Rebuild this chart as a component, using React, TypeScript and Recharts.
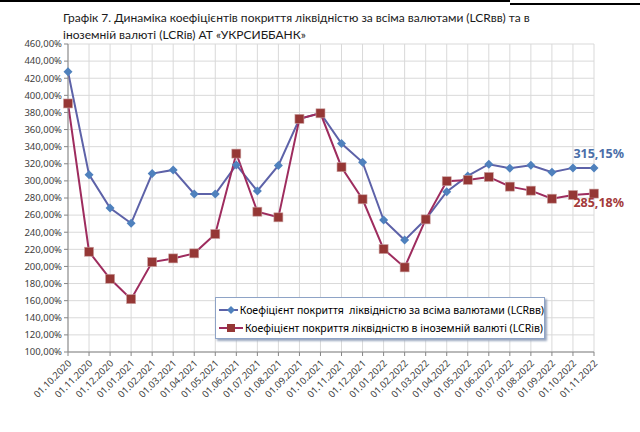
import { CartesianGrid, Line, LineChart, XAxis, YAxis } from "recharts";

const dates = [
  "01.10.2020", "01.11.2020", "01.12.2020", "01.01.2021", "01.02.2021", "01.03.2021",
  "01.04.2021", "01.05.2021", "01.06.2021", "01.07.2021", "01.08.2021", "01.09.2021",
  "01.10.2021", "01.11.2021", "01.12.2021", "01.01.2022", "01.02.2022", "01.03.2022",
  "01.04.2022", "01.05.2022", "01.06.2022", "01.07.2022", "01.08.2022", "01.09.2022",
  "01.10.2022", "01.11.2022",
];

const lcrAll = [
  427.5, 307.3, 268.3, 250.4, 308.5, 312.8, 284.7, 284.7, 318.7, 288.2, 318.0, 372.5,
  379.2, 343.6, 321.8, 254.3, 230.8, 255.1, 287.4, 305.8, 319.5, 314.8, 318.3, 310.1,
  315.2, 315.15,
];

const lcrFx = [
  390.5, 217.2, 185.6, 161.8, 205.1, 209.4, 215.3, 237.9, 331.9, 264.0, 257.4, 372.5,
  379.0, 316.0, 278.5, 220.3, 198.9, 255.0, 299.6, 301.1, 304.6, 293.3, 288.6, 279.2,
  283.5, 285.18,
];

const yTicks = [100, 120, 140, 160, 180, 200, 220, 240, 260, 280, 300, 320, 340, 360, 380, 400, 420, 440, 460];

const seriesNames = [
  "Коефіцієнт покриття  ліквідністю за всіма валютами (LCRвв)",
  "Коефіцієнт покриття ліквідністю в іноземній валюті (LCRів)",
];

const data = dates.map((d, i) => ({ date: d, all: lcrAll[i], fx: lcrFx[i] }));

const BLUE_LINE = "#5d62a8";
const BLUE_DOT = "#4f81bd";
const RED_LINE = "#9e2c5e";
const RED_DOT = "#953735";
const FONT = "'Noto Sans', 'DejaVu Sans', sans-serif";

const fmt = (v: number) => v.toFixed(2).replace(".", ",") + "%";

const Diamond = (p: any) => {
  const { cx, cy } = p;
  if (cx == null || cy == null) return null;
  const r = 4.5;
  return (
    <path
      key={`d-${p.index}`}
      d={`M${cx},${cy - r}L${cx + r},${cy}L${cx},${cy + r}L${cx - r},${cy}Z`}
      fill={BLUE_DOT}
    />
  );
};

const Square = (p: any) => {
  const { cx, cy } = p;
  if (cx == null || cy == null) return null;
  const s = 4.5;
  return (
    <rect
      key={`s-${p.index}`}
      x={cx - s}
      y={cy - s}
      width={s * 2}
      height={s * 2}
      fill={RED_DOT}
      stroke="#c9a0a0"
      strokeWidth={0.6}
    />
  );
};

const DateTick = ({ x, y, payload }: any) => (
  <text
    x={0}
    y={0}
    transform={`translate(${x + 4},${y + 6}) rotate(-45)`}
    textAnchor="end"
    fontSize={9.5}
    fontFamily={FONT}
    fill="#404040"
  >
    {payload.value}
  </text>
);

const lastLabel = (color: string, dx: number, dy: number) => (p: any) => {
  if (p.index !== dates.length - 1) return null;
  return (
    <text
      key="last"
      x={p.x + dx}
      y={p.y + dy}
      textAnchor="end"
      fontSize={12.5}
      fontWeight="bold"
      fontFamily={FONT}
      fill={color}
    >
      {fmt(p.value)}
    </text>
  );
};

const LegendBox = () => (
  <div
    style={{
      position: "absolute",
      left: 215,
      top: 297,
      border: "1px solid #8ea3c6",
      boxShadow: "2px 2px 2px #9aa8bf",
      background: "#fff",
      padding: "3px 0 0 3px",
      fontFamily: FONT,
      fontSize: 10.5,
      color: "#000",
      boxSizing: "border-box",
      width: 330,
      height: 42,
    }}
  >
    {seriesNames.map((name, i) => (
      <div key={name} style={{ display: "flex", alignItems: "center", height: 18, whiteSpace: "pre" }}>
        <svg width={24} height={12} style={{ marginRight: 2 }}>
          <line x1={0} y1={6} x2={24} y2={6} stroke={i === 0 ? BLUE_LINE : RED_LINE} strokeWidth={2} />
          {i === 0 ? (
            <path d="M12,2L16,6L12,10L8,6Z" fill={BLUE_DOT} />
          ) : (
            <rect x={8} y={2} width={8} height={8} fill={RED_DOT} />
          )}
        </svg>
        <span>{name}</span>
      </div>
    ))}
  </div>
);

export default function App() {
  return (
    <div style={{ position: "absolute", left: 0, top: 0, width: 640, height: 432, background: "#fff" }}>
      <div style={{ position: "absolute", left: 0, top: 0, width: 510, height: 2, background: "#000" }} />
      <div style={{ position: "absolute", left: 510, top: 3, width: 130, height: 2, background: "#000" }} />
      <div
        style={{
          position: "absolute",
          left: 63,
          top: 9,
          fontFamily: "Lato, 'Noto Sans', sans-serif",
          fontSize: 12,
          lineHeight: "17px",
          color: "#1a1a1a",
          width: 570,
        }}
      >
        Графік 7. Динаміка коефіцієнтів покриття ліквідністю за всіма валютами (LCRвв) та в
        <br />
        іноземній валюті (LCRів) АТ «УКРСИББАНК»
      </div>
      <LineChart width={640} height={432} data={data} margin={{ top: 44, right: 46, bottom: 0, left: 0 }}>
        <CartesianGrid stroke="#d9d9d9" strokeWidth={1} />
        <XAxis
          dataKey="date"
          interval={0}
          height={80}
          tick={<DateTick />}
          tickSize={4}
          axisLine={{ stroke: "#868686" }}
          tickLine={{ stroke: "#868686" }}
        />
        <YAxis
          domain={[100, 460]}
          ticks={yTicks}
          width={68}
          tickFormatter={fmt}
          tickSize={4}
          interval={0}
          tick={{ fontSize: 9.5, fill: "#404040", fontFamily: FONT }}
          axisLine={{ stroke: "#868686" }}
          tickLine={{ stroke: "#868686" }}
        />
        <Line
          dataKey="all"
          name={seriesNames[0]}
          stroke={BLUE_LINE}
          strokeWidth={2}
          dot={Diamond}
          activeDot={false}
          isAnimationActive={false}
          label={lastLabel("#4a6ea8", 30, -10)}
        />
        <Line
          dataKey="fx"
          name={seriesNames[1]}
          stroke={RED_LINE}
          strokeWidth={2}
          dot={Square}
          activeDot={false}
          isAnimationActive={false}
          label={lastLabel("#a33a3a", 30, 13)}
        />
      </LineChart>
      <LegendBox />
    </div>
  );
}
